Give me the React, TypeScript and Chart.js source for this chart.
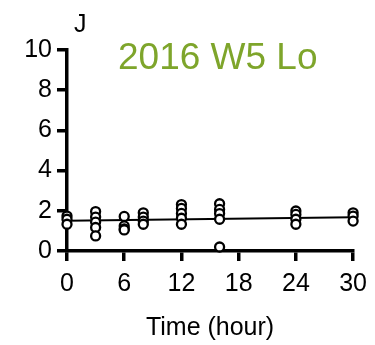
import React, { useEffect, useRef } from "react";
import { Chart, registerables } from "chart.js";

Chart.register(...registerables);

const timeGroups: number[] = [0, 3, 6, 8, 12, 16, 24, 30];
const groupValues: number[][] = [
  [1.74, 1.58, 1.33],
  [1.96, 1.69, 1.44, 1.17, 0.75],
  [1.72, 1.25, 1.1, 1.05],
  [1.9, 1.69, 1.49, 1.33],
  [2.31, 2.12, 1.87, 1.63, 1.33],
  [2.35, 2.07, 1.86, 1.58, 0.2],
  [1.99, 1.82, 1.58, 1.33],
  [1.9, 1.74, 1.49],
];
const fitTimes: number[] = [0, 30];
const fitValues: number[] = [1.5, 1.68];
const xTicks: number[] = [0, 6, 12, 18, 24, 30];
const yTicks: number[] = [0, 2, 4, 6, 8, 10];
const panelLabel = "J";
const chartTitle = "2016 W5 Lo";
const xTitle = "Time (hour)";

const FONT = "'Liberation Sans', Arial, sans-serif";

export default function App() {
  const ref = useRef<HTMLCanvasElement | null>(null);
  useEffect(() => {
    if (!ref.current) return;
    const points: { x: number; y: number }[] = [];
    timeGroups.forEach((t, i) => groupValues[i].forEach((v) => points.push({ x: t, y: v })));
    const fit = fitTimes.map((t, i) => ({ x: t, y: fitValues[i] }));

    const textPlugin = {
      id: "texts",
      afterDraw(chart: any) {
        const ctx = chart.ctx;
        ctx.save();
        ctx.textBaseline = "middle";
        ctx.textAlign = "left";
        ctx.fillStyle = "#000";
        ctx.font = `25px ${FONT}`;
        ctx.fillText(panelLabel, 74, 25);
        ctx.fillStyle = "#7ea52b";
        ctx.font = `37px ${FONT}`;
        ctx.fillText(chartTitle, 118, 59);
        ctx.restore();
      },
    };

    const chart = new Chart(ref.current, {
      type: "scatter",
      data: {
        datasets: [
          {
            type: "line",
            data: fit,
            borderColor: "#000",
            borderWidth: 2,
            pointRadius: 0,
            fill: false,
            order: 2,
          } as any,
          {
            data: points,
            pointRadius: 4.5,
            pointBorderWidth: 2.3,
            pointBorderColor: "#000",
            pointBackgroundColor: "#fff",
            clip: false,
            order: 1,
          } as any,
        ],
      },
      options: {
        animation: false,
        responsive: false,
        devicePixelRatio: 1,
        layout: { padding: { top: 50, right: 20, left: 0, bottom: 0 } },
        plugins: { legend: { display: false }, tooltip: { enabled: false } },
        scales: {
          x: {
            type: "linear",
            min: 0,
            max: 30,
            afterFit: (s: any) => { s.height = 94; },
            afterBuildTicks: (s: any) => { s.ticks = xTicks.map((v) => ({ value: v })); },
            border: { color: "#000", width: 3.5 },
            grid: { drawOnChartArea: false, drawTicks: true, tickLength: 10, color: "#000", lineWidth: 3.5 },
            ticks: { color: "#000", font: { family: FONT, size: 25 }, padding: 8, maxRotation: 0 },
            title: { display: true, text: xTitle, color: "#000", font: { family: FONT, size: 25 }, padding: { top: 0, bottom: 2 } },
          },
          y: {
            type: "linear",
            min: 0,
            max: 10,
            afterFit: (s: any) => { s.width = 67; },
            afterBuildTicks: (s: any) => { s.ticks = yTicks.map((v) => ({ value: v })); },
            border: { color: "#000", width: 3.5 },
            grid: { drawOnChartArea: false, drawTicks: true, tickLength: 10, color: "#000", lineWidth: 3.5 },
            ticks: { color: "#000", font: { family: FONT, size: 25 }, padding: 5 },
          },
        },
      },
      plugins: [textPlugin],
    });
    return () => chart.destroy();
  }, []);

  return (
    <div style={{ position: "fixed", left: 0, top: 0, width: 375, height: 345, background: "#fff" }}>
      <canvas ref={ref} width={375} height={345} style={{ display: "block" }} />
    </div>
  );
}
